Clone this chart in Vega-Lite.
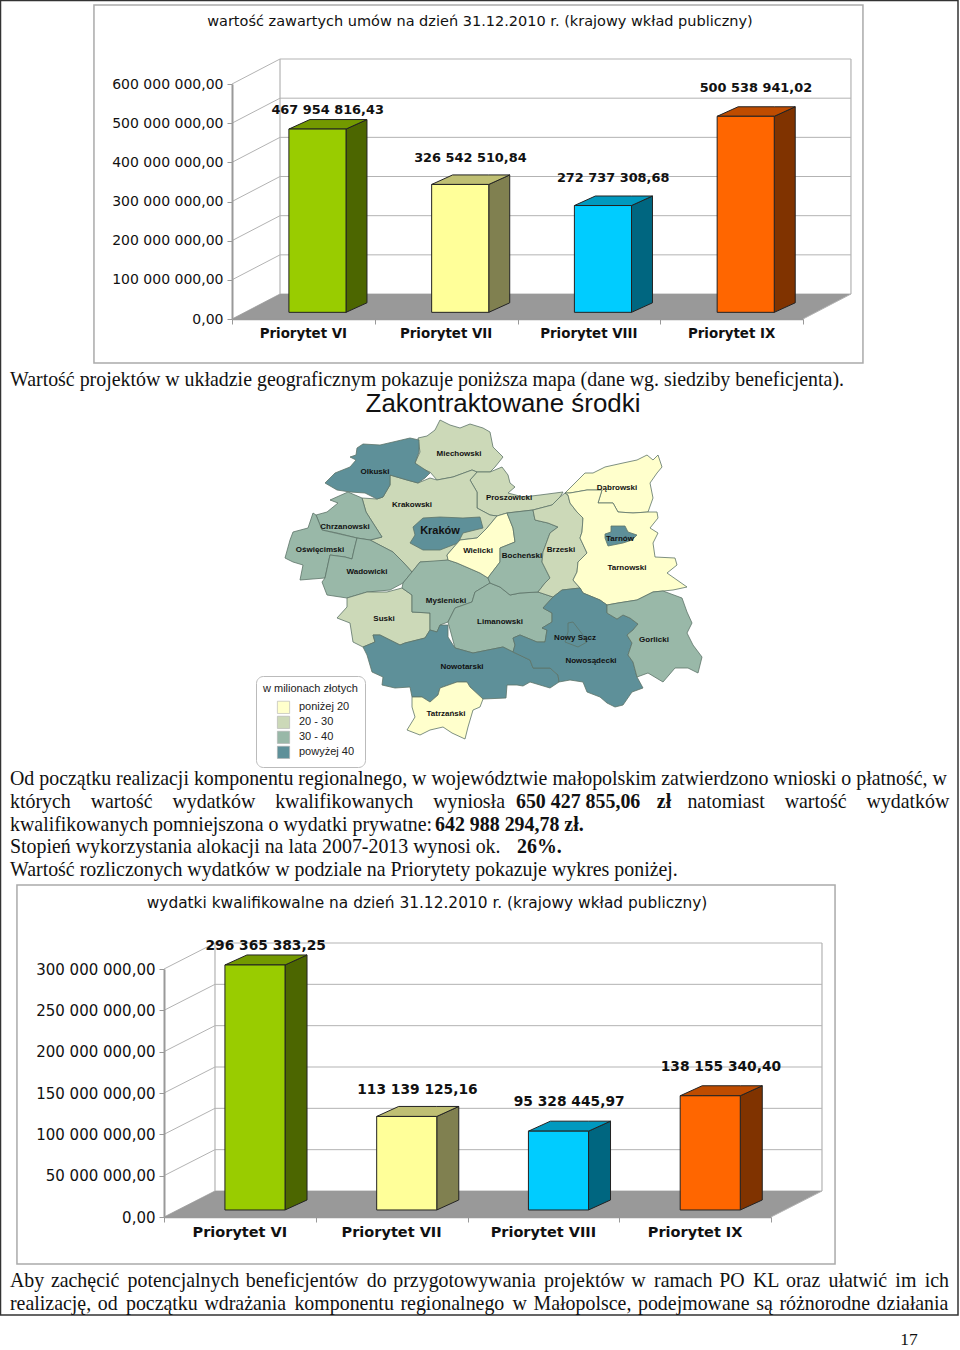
{
"$schema":"https://vega.github.io/schema/vega-lite/v6.json",
"width":960,"height":1350,"padding":0,"autosize":{"type":"none"},"background":"white",
"config":{"view":{"stroke":null},"text":{"color":"#111"}},
"datasets":{
"c1":[{"p":"Priorytet VI","i":0,"v":467954816.43,"label":"467 954 816,43"},{"p":"Priorytet VII","i":1,"v":326542510.84,"label":"326 542 510,84"},{"p":"Priorytet VIII","i":2,"v":272737308.68,"label":"272 737 308,68"},{"p":"Priorytet IX","i":3,"v":500538941.02,"label":"500 538 941,02"}],
"c2":[{"p":"Priorytet VI","i":0,"v":296365383.25,"label":"296 365 383,25"},{"p":"Priorytet VII","i":1,"v":113139125.16,"label":"113 139 125,16"},{"p":"Priorytet VIII","i":2,"v":95328445.97,"label":"95 328 445,97"},{"p":"Priorytet IX","i":3,"v":138155340.40,"label":"138 155 340,40"}],
"g1":[{"w":0},{"w":100000000},{"w":200000000},{"w":300000000},{"w":400000000},{"w":500000000},{"w":600000000}],
"g2":[{"w":0},{"w":50000000},{"w":100000000},{"w":150000000},{"w":200000000},{"w":250000000},{"w":300000000}],
"mapa":[
{"type":"Feature","properties":{"name":"Miechowski","cat":"20 - 30"},"geometry":{"type":"Polygon","coordinates":[[[418,438],[427,436],[435,430],[440,420],[450,425],[460,428],[470,424],[483,428],[490,432],[493,447],[503,457],[495,467],[490,472],[477,472],[472,470],[453,477],[437,480],[430,472],[420,468],[415,463],[420,452],[418,438]]]}},
{"type":"Feature","properties":{"name":"Proszowicki","cat":"20 - 30"},"geometry":{"type":"Polygon","coordinates":[[[470,480],[477,472],[490,472],[502,467],[508,475],[510,483],[515,487],[508,493],[523,497],[540,495],[563,492],[560,497],[552,505],[533,510],[507,513],[497,516],[490,515],[477,508],[477,492],[470,480]]]}},
{"type":"Feature","properties":{"name":"Krakowski","cat":"20 - 30"},"geometry":{"type":"Polygon","coordinates":[[[390,475],[407,480],[418,483],[430,478],[437,480],[453,477],[472,470],[477,472],[470,480],[477,492],[477,508],[490,515],[497,516],[487,528],[477,538],[460,540],[453,548],[447,555],[448,560],[437,562],[420,562],[412,572],[403,562],[393,552],[370,540],[382,537],[373,523],[366,512],[362,498],[377,499],[383,497],[390,485],[390,475]]]}},
{"type":"Feature","properties":{"name":"Olkuski","cat":"powyżej 40"},"geometry":{"type":"Polygon","coordinates":[[[357,448],[363,444],[380,445],[393,442],[410,438],[419,440],[419,452],[415,463],[430,473],[425,478],[418,483],[407,480],[390,475],[390,485],[383,497],[377,499],[365,493],[350,492],[337,490],[325,483],[335,473],[350,467],[356,460],[350,457],[356,455],[357,448]]]}},
{"type":"Feature","properties":{"name":"Kraków","cat":"powyżej 40"},"geometry":{"type":"Polygon","coordinates":[[[423,518],[440,517],[463,518],[480,517],[483,528],[463,533],[458,543],[440,550],[423,550],[410,543],[415,535],[413,527],[423,518]]]}},
{"type":"Feature","properties":{"name":"Chrzanowski","cat":"30 - 40"},"geometry":{"type":"Polygon","coordinates":[[[348,492],[362,498],[366,512],[373,523],[382,537],[370,540],[357,538],[337,533],[322,530],[316,515],[327,512],[338,503],[330,500],[348,492]]]}},
{"type":"Feature","properties":{"name":"Oświęcimski","cat":"30 - 40"},"geometry":{"type":"Polygon","coordinates":[[[313,513],[316,515],[322,530],[357,538],[354,550],[352,559],[345,557],[330,555],[325,578],[300,580],[303,565],[293,562],[285,558],[290,540],[293,532],[308,528],[313,513]]]}},
{"type":"Feature","properties":{"name":"Wadowicki","cat":"30 - 40"},"geometry":{"type":"Polygon","coordinates":[[[357,538],[370,540],[393,552],[403,562],[412,572],[403,583],[390,590],[367,592],[347,598],[327,595],[322,582],[325,578],[330,555],[345,557],[352,559],[354,550],[357,538]]]}},
{"type":"Feature","properties":{"name":"Suski","cat":"20 - 30"},"geometry":{"type":"Polygon","coordinates":[[[347,598],[367,592],[387,592],[402,588],[412,595],[412,612],[430,613],[430,630],[425,638],[405,643],[400,645],[380,635],[373,635],[375,642],[363,647],[353,642],[350,623],[337,618],[347,607],[347,598]]]}},
{"type":"Feature","properties":{"name":"Myślenicki","cat":"30 - 40"},"geometry":{"type":"Polygon","coordinates":[[[403,583],[412,572],[420,562],[448,560],[457,563],[480,573],[488,578],[490,583],[475,592],[472,602],[455,608],[448,622],[440,625],[437,632],[430,630],[430,613],[412,612],[412,595],[402,588],[403,583]]]}},
{"type":"Feature","properties":{"name":"Limanowski","cat":"30 - 40"},"geometry":{"type":"Polygon","coordinates":[[[490,583],[500,587],[510,595],[520,593],[538,592],[553,597],[543,608],[552,613],[552,622],[542,628],[547,630],[545,642],[537,642],[520,635],[513,638],[515,645],[513,652],[503,647],[473,653],[455,648],[448,622],[455,608],[472,602],[475,592],[490,583]]]}},
{"type":"Feature","properties":{"name":"Nowotarski","cat":"powyżej 40"},"geometry":{"type":"Polygon","coordinates":[[[363,647],[375,642],[373,635],[380,635],[400,645],[405,643],[425,638],[430,630],[437,632],[440,625],[448,625],[448,637],[455,648],[473,653],[503,647],[513,652],[530,660],[533,668],[550,668],[558,675],[559,682],[550,688],[530,682],[523,686],[517,685],[507,685],[506,698],[483,699],[470,687],[467,682],[457,682],[440,688],[438,695],[430,702],[422,697],[412,697],[410,687],[395,688],[382,685],[383,677],[372,672],[367,655],[363,647]]]}},
{"type":"Feature","properties":{"name":"Tatrzański","cat":"poniżej 20"},"geometry":{"type":"Polygon","coordinates":[[[412,697],[422,697],[430,702],[438,695],[440,688],[457,682],[467,682],[470,687],[483,699],[480,707],[473,710],[468,727],[465,739],[452,733],[443,727],[430,730],[420,735],[407,730],[415,717],[412,707],[412,697]]]}},
{"type":"Feature","properties":{"name":"Wielicki","cat":"poniżej 20"},"geometry":{"type":"Polygon","coordinates":[[[497,516],[507,513],[513,528],[515,542],[500,548],[500,562],[490,575],[488,578],[480,573],[457,563],[448,560],[447,555],[453,548],[460,540],[477,538],[487,528],[497,516]]]}},
{"type":"Feature","properties":{"name":"Bocheński","cat":"30 - 40"},"geometry":{"type":"Polygon","coordinates":[[[507,513],[533,510],[535,520],[548,523],[558,527],[550,533],[543,552],[542,562],[545,568],[550,578],[545,583],[538,592],[520,593],[510,595],[500,587],[490,583],[488,578],[490,575],[500,562],[500,548],[515,542],[513,528],[507,513]]]}},
{"type":"Feature","properties":{"name":"Brzeski","cat":"20 - 30"},"geometry":{"type":"Polygon","coordinates":[[[533,510],[552,505],[560,497],[565,493],[568,495],[570,503],[577,512],[583,518],[582,532],[580,538],[587,553],[578,562],[577,572],[573,580],[580,588],[562,590],[553,597],[538,592],[545,583],[550,578],[545,568],[542,562],[543,552],[550,533],[558,527],[548,523],[535,520],[533,510]]]}},
{"type":"Feature","properties":{"name":"Dąbrowski","cat":"poniżej 20"},"geometry":{"type":"Polygon","coordinates":[[[575,483],[585,473],[593,473],[605,467],[623,463],[637,460],[647,455],[653,460],[658,455],[662,467],[657,473],[650,483],[653,498],[648,512],[633,513],[618,512],[613,503],[598,503],[602,490],[587,490],[570,493],[565,493],[575,483]]]}},
{"type":"Feature","properties":{"name":"Tarnowski","cat":"poniżej 20"},"geometry":{"type":"Polygon","coordinates":[[[565,493],[570,493],[587,490],[602,490],[598,503],[613,503],[618,512],[633,513],[648,512],[657,512],[658,518],[650,528],[658,533],[653,543],[655,557],[675,558],[677,565],[667,573],[687,587],[673,590],[653,592],[637,600],[618,603],[607,605],[600,600],[583,593],[580,588],[573,580],[577,572],[578,562],[587,553],[580,538],[582,532],[583,518],[577,512],[570,503],[568,495],[565,493]]]}},
{"type":"Feature","properties":{"name":"Tarnów","cat":"powyżej 40"},"geometry":{"type":"Polygon","coordinates":[[[611,526],[625,526],[628,532],[637,535],[632,540],[623,543],[608,546],[605,538],[605,534],[611,532],[611,526]]]}},
{"type":"Feature","properties":{"name":"Nowosądecki","cat":"powyżej 40"},"geometry":{"type":"Polygon","coordinates":[[[543,608],[553,597],[562,590],[580,588],[583,593],[600,600],[607,605],[607,613],[617,619],[623,615],[630,618],[638,624],[633,630],[627,635],[632,643],[628,655],[633,662],[637,677],[643,688],[632,692],[623,705],[615,707],[607,703],[600,697],[587,692],[583,682],[570,680],[559,682],[558,675],[550,668],[533,668],[530,660],[513,652],[515,645],[513,638],[520,635],[537,642],[545,642],[547,630],[542,628],[552,622],[552,613],[543,608]]]}},
{"type":"Feature","properties":{"name":"Nowy Sącz","cat":"powyżej 40"},"geometry":{"type":"Polygon","coordinates":[[[568,623],[573,622],[583,635],[587,642],[578,647],[565,642],[568,632],[568,623]]]}},
{"type":"Feature","properties":{"name":"Gorlicki","cat":"30 - 40"},"geometry":{"type":"Polygon","coordinates":[[[607,605],[618,603],[637,600],[653,592],[663,591],[682,598],[687,612],[692,623],[687,633],[693,645],[702,657],[698,673],[688,668],[675,668],[663,682],[648,673],[637,677],[633,662],[628,655],[632,643],[627,635],[633,630],[638,624],[630,618],[623,615],[617,619],[607,613],[607,605]]]}}
],
"nazwy":[{"n":"Miechowski","lon":459,"lat":454},{"n":"Olkuski","lon":375,"lat":472},{"n":"Krakowski","lon":412,"lat":505},{"n":"Proszowicki","lon":509,"lat":498},{"n":"Dąbrowski","lon":617,"lat":488},{"n":"Chrzanowski","lon":345,"lat":527},{"n":"Oświęcimski","lon":320,"lat":550},{"n":"Wielicki","lon":478,"lat":551},{"n":"Bocheński","lon":522,"lat":556},{"n":"Brzeski","lon":561,"lat":550},{"n":"Tarnów","lon":620,"lat":539},{"n":"Tarnowski","lon":627,"lat":568},{"n":"Wadowicki","lon":367,"lat":572},{"n":"Myślenicki","lon":446,"lat":601},{"n":"Suski","lon":384,"lat":619},{"n":"Limanowski","lon":500,"lat":622},{"n":"Nowy Sącz","lon":575,"lat":638},{"n":"Gorlicki","lon":654,"lat":640},{"n":"Nowosądecki","lon":591,"lat":661},{"n":"Nowotarski","lon":462,"lat":667},{"n":"Tatrzański","lon":446,"lat":714}]
},
"resolve":{"scale":{"x":"independent","y":"independent","color":"independent"},"axis":{"x":"independent","y":"independent"}},
"layer":[
{"data":{"values":[{"strona":1}]},"mark":{"type":"rect","fill":"transparent","stroke":"#333","strokeWidth":1.5},
 "encoding":{"x":{"datum":0,"type":"quantitative","scale":{"domain":[0,1],"range":[0.5,958]},"axis":null},"x2":{"datum":1},"y":{"datum":0,"type":"quantitative","scale":{"domain":[0,1],"range":[0.5,1315]},"axis":null},"y2":{"datum":1}}},
{"encoding":{
 "x":{"field":"xa","type":"quantitative","scale":{"domain":[-0.5,3.5],"range":[232,803]},"axis":{"orient":"bottom","offset":-1031,"zindex":1,"values":[-0.5,0.5,1.5,2.5,3.5],"labels":false,"title":null,"grid":false,"domainColor":"#999","domainWidth":1.5,"tickColor":"#999","tickSize":5}},
 "y":{"field":"ya","type":"quantitative","stack":null,"scale":{"domain":[0,600000000],"range":[319,84]},"axis":{"orient":"left","offset":-232,"zindex":1,"values":[0,100000000,200000000,300000000,400000000,500000000,600000000],"title":null,"grid":false,"domainColor":"#999","domainWidth":2,"tickColor":"#999","tickSize":5,"labelPadding":4,"labelFont":"DejaVu Sans","labelFontSize":14,"labelColor":"#111","labelExpr":"replace(replace(format(datum.value,',.2f'),/,/g,' '),'.',',')"}}},
 "resolve":{"scale":{"color":"independent"}},
 "layer":[
 {"data":{"values":[{"obiekt":"ramka"}]},"transform":[{"calculate":"-1.467","as":"xa"},{"calculate":"3.92","as":"xb"},{"calculate":"801600000","as":"ya"},{"calculate":"-112300000","as":"yb"}],"mark":{"type":"rect","fill":"transparent","stroke":"#aaa","strokeWidth":1.5},"encoding":{"x2":{"field":"xb"},"y2":{"field":"yb"}}},
 {"data":{"name":"g1"},"transform":[{"calculate":"-0.1637","as":"xa"},{"calculate":"3.836","as":"xb"},{"calculate":"datum.w+63800000","as":"ya"},{"calculate":"datum.ya","as":"yb"}],"mark":{"type":"rule","stroke":"#b3b3b3","strokeWidth":1},"encoding":{"x2":{"field":"xb"},"y2":{"field":"yb"}}},
 {"data":{"name":"g1"},"transform":[{"calculate":"-0.5","as":"xa"},{"calculate":"-0.1637","as":"xb"},{"calculate":"datum.w","as":"ya"},{"calculate":"datum.w+63800000","as":"yb"}],"mark":{"type":"rule","stroke":"#b3b3b3","strokeWidth":1},"encoding":{"x2":{"field":"xb"},"y2":{"field":"yb"}}},
 {"data":{"values":[{"k":0},{"k":1}]},"transform":[{"calculate":"-0.1637+datum.k*3.9997","as":"xa"},{"calculate":"datum.xa","as":"xb"},{"calculate":"63800000","as":"ya"},{"calculate":"663800000","as":"yb"}],"mark":{"type":"rule","stroke":"#b3b3b3","strokeWidth":1.2},"encoding":{"x2":{"field":"xb"},"y2":{"field":"yb"}}},
 {"data":{"values":[{"obiekt":"podloga"}]},"transform":[{"calculate":"[0,1,2,3]","as":"t"},{"flatten":["t"]},{"calculate":"[-0.5,-0.1637,3.5,3.836][datum.t]","as":"xa"},{"calculate":"[0,63800000,63800000,63800000][datum.t]","as":"ya"},{"calculate":"[0,0,0,63800000][datum.t]","as":"yb"}],"mark":{"type":"area","fill":"#999999"},"encoding":{"y2":{"field":"yb"},"detail":{"field":"obiekt"}}},
 {"data":{"values":[{"obiekt":"krawedz"}]},"transform":[{"calculate":"3.5","as":"xa"},{"calculate":"3.836","as":"xb"},{"calculate":"0","as":"ya"},{"calculate":"63800000","as":"yb"}],"mark":{"type":"rule","stroke":"#b3b3b3","strokeWidth":1},"encoding":{"x2":{"field":"xb"},"y2":{"field":"yb"}}},
 {"data":{"name":"c1"},"transform":[{"calculate":"[0,1]","as":"t"},{"flatten":["t"]},{"calculate":"datum.i+0.2986+0.147*datum.t","as":"xa"},{"calculate":"datum.v+17000000+24300000*datum.t","as":"ya"},{"calculate":"17000000+24300000*datum.t","as":"yb"}],"mark":{"type":"area","stroke":"#222","strokeWidth":1},"encoding":{"y2":{"field":"yb"},"detail":{"field":"p"},"color":{"field":"p","type":"nominal","legend":null,"scale":{"domain":["Priorytet VI","Priorytet VII","Priorytet VIII","Priorytet IX"],"range":["#4c6600","#808050","#006680","#803300"]}}}},
 {"data":{"name":"c1"},"transform":[{"calculate":"[0,1,2,3]","as":"t"},{"flatten":["t"]},{"calculate":"datum.i-0.1014+[0,0.147,0.4,0.547][datum.t]","as":"xa"},{"calculate":"datum.v+17000000+[0,24300000,24300000,24300000][datum.t]","as":"ya"},{"calculate":"datum.v+17000000+[0,0,0,24300000][datum.t]","as":"yb"}],"mark":{"type":"area","stroke":"#222","strokeWidth":1},"encoding":{"y2":{"field":"yb"},"detail":{"field":"p"},"color":{"field":"p","type":"nominal","legend":null,"scale":{"domain":["Priorytet VI","Priorytet VII","Priorytet VIII","Priorytet IX"],"range":["#739900","#bfbf73","#0099bf","#bf4c00"]}}}},
 {"data":{"name":"c1"},"transform":[{"calculate":"datum.i-0.1014","as":"xa"},{"calculate":"datum.i+0.2986","as":"xb"},{"calculate":"datum.v+17000000","as":"ya"},{"calculate":"17000000","as":"yb"}],"mark":{"type":"rect","stroke":"#222","strokeWidth":1},"encoding":{"x2":{"field":"xb"},"y2":{"field":"yb"},"color":{"field":"p","type":"nominal","legend":null,"scale":{"domain":["Priorytet VI","Priorytet VII","Priorytet VIII","Priorytet IX"],"range":["#99cc00","#ffff99","#00ccff","#ff6600"]}}}},
 {"data":{"name":"c1"},"transform":[{"calculate":"datum.i+0.17","as":"xa"},{"calculate":"datum.v+17000000","as":"ya"}],"mark":{"type":"text","font":"DejaVu Sans","fontWeight":"bold","fontSize":12.9,"baseline":"middle","align":"center","dy":{"expr":"datum.i==0?-19:datum.i==1?-26:-28"}},"encoding":{"text":{"field":"label"}}},
 {"data":{"name":"c1"},"transform":[{"calculate":"datum.i","as":"xa"},{"calculate":"0","as":"ya"}],"mark":{"type":"text","font":"DejaVu Sans","fontWeight":"bold","fontSize":13.4,"baseline":"middle","align":"center","dy":15},"encoding":{"text":{"field":"p"}}},
 {"data":{"values":[{"tekst":"wartość zawartych umów na dzień 31.12.2010 r. (krajowy wkład publiczny)"}]},"transform":[{"calculate":"1.237","as":"xa"},{"calculate":"759000000","as":"ya"}],"mark":{"type":"text","font":"DejaVu Sans","fontSize":14.5,"baseline":"middle","align":"center"},"encoding":{"text":{"field":"tekst"}}}
 ]},
{"encoding":{
 "x":{"field":"xa","type":"quantitative","scale":{"domain":[-0.5,3.5],"range":[164,771]},"axis":{"orient":"bottom","offset":-133,"zindex":1,"values":[-0.5,0.5,1.5,2.5,3.5],"labels":false,"title":null,"grid":false,"domainColor":"#999","domainWidth":1.5,"tickColor":"#999","tickSize":5}},
 "y":{"field":"ya","type":"quantitative","stack":null,"scale":{"domain":[0,300000000],"range":[1217,969]},"axis":{"orient":"left","offset":-164,"zindex":1,"values":[0,50000000,100000000,150000000,200000000,250000000,300000000],"title":null,"grid":false,"domainColor":"#999","domainWidth":2,"tickColor":"#999","tickSize":5,"labelPadding":4,"labelFont":"DejaVu Sans","labelFontSize":15,"labelColor":"#111","labelExpr":"replace(replace(format(datum.value,',.2f'),/,/g,' '),'.',',')"}}},
 "resolve":{"scale":{"color":"independent"}},
 "layer":[
 {"data":{"values":[{"obiekt":"ramka"}]},"transform":[{"calculate":"-1.469","as":"xa"},{"calculate":"3.922","as":"xb"},{"calculate":"401600000","as":"ya"},{"calculate":"-56850000","as":"yb"}],"mark":{"type":"rect","fill":"transparent","stroke":"#aaa","strokeWidth":1.5},"encoding":{"x2":{"field":"xb"},"y2":{"field":"yb"}}},
 {"data":{"name":"g2"},"transform":[{"calculate":"-0.164","as":"xa"},{"calculate":"3.836","as":"xb"},{"calculate":"datum.w+31450000","as":"ya"},{"calculate":"datum.ya","as":"yb"}],"mark":{"type":"rule","stroke":"#b3b3b3","strokeWidth":1},"encoding":{"x2":{"field":"xb"},"y2":{"field":"yb"}}},
 {"data":{"name":"g2"},"transform":[{"calculate":"-0.5","as":"xa"},{"calculate":"-0.164","as":"xb"},{"calculate":"datum.w","as":"ya"},{"calculate":"datum.w+31450000","as":"yb"}],"mark":{"type":"rule","stroke":"#b3b3b3","strokeWidth":1},"encoding":{"x2":{"field":"xb"},"y2":{"field":"yb"}}},
 {"data":{"values":[{"k":0},{"k":1}]},"transform":[{"calculate":"-0.164+datum.k*4","as":"xa"},{"calculate":"datum.xa","as":"xb"},{"calculate":"31450000","as":"ya"},{"calculate":"331450000","as":"yb"}],"mark":{"type":"rule","stroke":"#b3b3b3","strokeWidth":1.2},"encoding":{"x2":{"field":"xb"},"y2":{"field":"yb"}}},
 {"data":{"values":[{"obiekt":"podloga"}]},"transform":[{"calculate":"[0,1,2,3]","as":"t"},{"flatten":["t"]},{"calculate":"[-0.5,-0.164,3.5,3.836][datum.t]","as":"xa"},{"calculate":"[0,31450000,31450000,31450000][datum.t]","as":"ya"},{"calculate":"[0,0,0,31450000][datum.t]","as":"yb"}],"mark":{"type":"area","fill":"#999999"},"encoding":{"y2":{"field":"yb"},"detail":{"field":"obiekt"}}},
 {"data":{"values":[{"obiekt":"krawedz"}]},"transform":[{"calculate":"3.5","as":"xa"},{"calculate":"3.836","as":"xb"},{"calculate":"0","as":"ya"},{"calculate":"31450000","as":"yb"}],"mark":{"type":"rule","stroke":"#b3b3b3","strokeWidth":1},"encoding":{"x2":{"field":"xb"},"y2":{"field":"yb"}}},
 {"data":{"name":"c2"},"transform":[{"calculate":"[0,1]","as":"t"},{"flatten":["t"]},{"calculate":"datum.i+0.2975+0.145*datum.t","as":"xa"},{"calculate":"datum.v+8500000+12100000*datum.t","as":"ya"},{"calculate":"8500000+12100000*datum.t","as":"yb"}],"mark":{"type":"area","stroke":"#222","strokeWidth":1},"encoding":{"y2":{"field":"yb"},"detail":{"field":"p"},"color":{"field":"p","type":"nominal","legend":null,"scale":{"domain":["Priorytet VI","Priorytet VII","Priorytet VIII","Priorytet IX"],"range":["#4c6600","#808050","#006680","#803300"]}}}},
 {"data":{"name":"c2"},"transform":[{"calculate":"[0,1,2,3]","as":"t"},{"flatten":["t"]},{"calculate":"datum.i-0.0985+[0,0.145,0.396,0.541][datum.t]","as":"xa"},{"calculate":"datum.v+8500000+[0,12100000,12100000,12100000][datum.t]","as":"ya"},{"calculate":"datum.v+8500000+[0,0,0,12100000][datum.t]","as":"yb"}],"mark":{"type":"area","stroke":"#222","strokeWidth":1},"encoding":{"y2":{"field":"yb"},"detail":{"field":"p"},"color":{"field":"p","type":"nominal","legend":null,"scale":{"domain":["Priorytet VI","Priorytet VII","Priorytet VIII","Priorytet IX"],"range":["#739900","#bfbf73","#0099bf","#bf4c00"]}}}},
 {"data":{"name":"c2"},"transform":[{"calculate":"datum.i-0.0985","as":"xa"},{"calculate":"datum.i+0.2975","as":"xb"},{"calculate":"datum.v+8500000","as":"ya"},{"calculate":"8500000","as":"yb"}],"mark":{"type":"rect","stroke":"#222","strokeWidth":1},"encoding":{"x2":{"field":"xb"},"y2":{"field":"yb"},"color":{"field":"p","type":"nominal","legend":null,"scale":{"domain":["Priorytet VI","Priorytet VII","Priorytet VIII","Priorytet IX"],"range":["#99cc00","#ffff99","#00ccff","#ff6600"]}}}},
 {"data":{"name":"c2"},"transform":[{"calculate":"datum.i+0.17","as":"xa"},{"calculate":"datum.v+8500000","as":"ya"}],"mark":{"type":"text","font":"DejaVu Sans","fontWeight":"bold","fontSize":13.8,"baseline":"middle","align":"center","dy":{"expr":"datum.i==0?-19:datum.i==1?-26:-29"}},"encoding":{"text":{"field":"label"}}},
 {"data":{"name":"c2"},"transform":[{"calculate":"datum.i","as":"xa"},{"calculate":"0","as":"ya"}],"mark":{"type":"text","font":"DejaVu Sans","fontWeight":"bold","fontSize":14.5,"baseline":"middle","align":"center","dy":16},"encoding":{"text":{"field":"p"}}},
 {"data":{"values":[{"tekst":"wydatki kwalifikowalne na dzień 31.12.2010 r. (krajowy wkład publiczny)"}]},"transform":[{"calculate":"1.233","as":"xa"},{"calculate":"380000000","as":"ya"}],"mark":{"type":"text","font":"DejaVu Sans","fontSize":15.4,"baseline":"middle","align":"center"},"encoding":{"text":{"field":"tekst"}}}
 ]},
{"projection":{"type":"identity","scale":1,"translate":[0,0]},
 "layer":[
 {"data":{"name":"mapa"},"mark":{"type":"geoshape","stroke":"#5d7468","strokeWidth":0.8},"encoding":{"color":{"field":"properties.cat","type":"nominal","scale":{"domain":["poniżej 20","20 - 30","30 - 40","powyżej 40"],"range":["#ffffcc","#ccd9b8","#99b8a8","#5e9099"]},"legend":{"title":"w milionach złotych","orient":"none","legendX":256,"legendY":676,"padding":7,"cornerRadius":7,"strokeColor":"#bbbbbb","fillColor":"white","symbolType":"square","symbolSize":150,"symbolOffset":14,"labelOffset":9,"titleFontSize":11,"labelFontSize":11,"titleFontWeight":"normal","titleFont":"Liberation Sans","labelFont":"Liberation Sans","titlePadding":6,"rowPadding":0,"clipHeight":14.7,"symbolStrokeColor":"#b0b0b0","symbolStrokeWidth":0.6,"labelColor":"#222","titleColor":"#222"}}}},
 {"data":{"name":"nazwy"},"mark":{"type":"text","font":"Liberation Sans","fontWeight":"bold","fontSize":8,"baseline":"middle","align":"center"},"encoding":{"longitude":{"field":"lon","type":"quantitative"},"latitude":{"field":"lat","type":"quantitative"},"text":{"field":"n"}}},
 {"data":{"values":[{"n":"Kraków","lon":440,"lat":531}]},"mark":{"type":"text","font":"Liberation Sans","fontWeight":"bold","fontSize":11,"baseline":"middle","align":"center"},"encoding":{"longitude":{"field":"lon","type":"quantitative"},"latitude":{"field":"lat","type":"quantitative"},"text":{"field":"n"}}}
 ]},
{"data":{"values":[{"t":"Wartość projektów w układzie geograficznym pokazuje poniższa mapa (dane wg. siedziby beneficjenta)."}]},"mark":{"type":"text","font":"Liberation Serif","fontSize":19.9,"baseline":"middle","align":"left"},"encoding":{"x":{"datum":0,"type":"quantitative","scale":{"domain":[0,1],"range":[10,948]},"axis":null},"y":{"datum":0,"type":"quantitative","scale":{"domain":[0,1],"range":[380,400]},"axis":null},"text":{"field":"t"}}},
{"data":{"values":[{"t":"Zakontraktowane środki"}]},"mark":{"type":"text","font":"Liberation Sans","fontSize":25.9,"baseline":"middle","align":"center"},"encoding":{"x":{"datum":0,"type":"quantitative","scale":{"domain":[0,1],"range":[503,600]},"axis":null},"y":{"datum":0,"type":"quantitative","scale":{"domain":[0,1],"range":[404,420]},"axis":null},"text":{"field":"t"}}},
{"encoding":{"x":{"field":"kol","type":"quantitative","scale":{"domain":[0,1],"range":[10,948]},"axis":null},"y":{"field":"wiersz","type":"quantitative","scale":{"domain":[1,5],"range":[779,870]},"axis":null},"text":{"field":"t"}},
 "layer":[
 {"data":{"values":[
  {"wiersz":1,"seg":"a","t":"Od początku realizacji komponentu regionalnego, w województwie małopolskim zatwierdzono wnioski o płatność, w"},
  {"wiersz":2,"seg":"a","t":"których\u2003wartość\u2003wydatków\u2003kwalifikowanych\u2003wyniosła"},
  {"wiersz":2,"seg":"c","t":"natomiast\u2003wartość\u2003wydatków"},
  {"wiersz":3,"seg":"a","t":"kwalifikowanych pomniejszona o wydatki prywatne:"},
  {"wiersz":4,"seg":"a","t":"Stopień wykorzystania alokacji na lata 2007-2013 wynosi ok."},
  {"wiersz":5,"seg":"a","t":"Wartość rozliczonych wydatków w podziale na Priorytety pokazuje wykres poniżej."}]},
  "transform":[{"calculate":"datum.seg=='a'?0:0.7222","as":"kol"}],
  "mark":{"type":"text","font":"Liberation Serif","fontSize":19.9,"baseline":"middle","align":"left"}},
 {"data":{"values":[
  {"wiersz":2,"seg":"b2","t":"650 427 855,06\u2002\u2004zł"},
  {"wiersz":3,"seg":"b3","t":"642 988 294,78 zł."},
  {"wiersz":4,"seg":"b4","t":"26%."}]},
  "transform":[{"calculate":"datum.seg=='b2'?0.5394:datum.seg=='b3'?0.4531:0.5405","as":"kol"}],
  "mark":{"type":"text","font":"Liberation Serif","fontWeight":"bold","fontSize":19.9,"baseline":"middle","align":"left"}}
 ]},
{"data":{"values":[
  {"wiersz":1,"t":"Aby\u2004zachęcić\u2005\u2006potencjalnych\u2004beneficjentów\u2005\u2006do\u2004przygotowywania\u2005\u2006projektów\u2004w\u2005\u2006ramach\u2004PO\u2005\u2006KL\u2004oraz\u2005\u2006ułatwić\u2005\u2006im\u2005\u2006ich"},
  {"wiersz":2,"t":"realizację,\u2004od\u2005\u2006początku\u2004wdrażania\u2005\u2006komponentu\u2004regionalnego\u2005\u2006w\u2004Małopolsce,\u2004podejmowane\u2004są\u2004różnorodne\u2004działania"}]},
 "mark":{"type":"text","font":"Liberation Serif","fontSize":19.9,"baseline":"middle","align":"left"},
 "encoding":{"x":{"datum":0,"type":"quantitative","scale":{"domain":[0,1],"range":[10,948]},"axis":null},"y":{"field":"wiersz","type":"quantitative","scale":{"domain":[1,2],"range":[1281,1304]},"axis":null},"text":{"field":"t"}}},
{"data":{"values":[{"t":"17"}]},"mark":{"type":"text","font":"Liberation Serif","fontSize":17.5,"baseline":"middle","align":"center"},"encoding":{"x":{"datum":0,"type":"quantitative","scale":{"domain":[0,1],"range":[909,950]},"axis":null},"y":{"datum":0,"type":"quantitative","scale":{"domain":[0,1],"range":[1339.5,1349]},"axis":null},"text":{"field":"t"}}}
]}
